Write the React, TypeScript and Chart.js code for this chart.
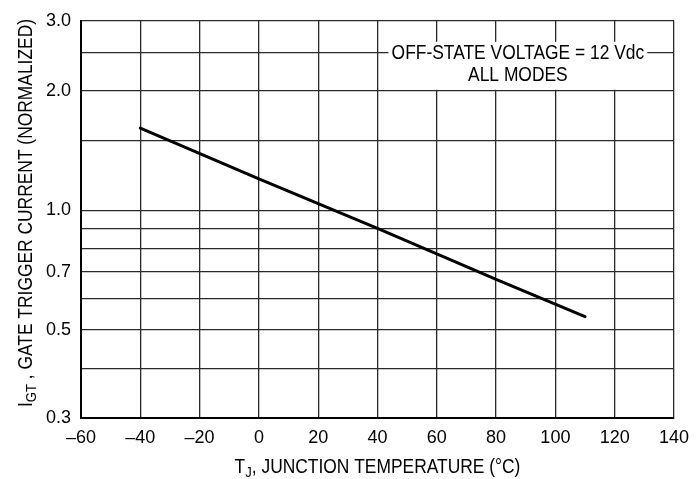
import { useEffect, useRef } from 'react';
import { Chart, registerables } from 'chart.js';

Chart.register(...registerables);

// ---- data ----
const temperatureC = [-40, 0, 40, 80, 110];
const gateTriggerCurrent = [1.61, 1.2, 0.9, 0.67, 0.54];
const xTickValues = [-60, -40, -20, 0, 20, 40, 60, 80, 100, 120, 140];
const yGridValues = [0.3, 0.4, 0.5, 0.6, 0.7, 0.8, 0.9, 1.0, 1.5, 2.0, 2.5, 3.0];
const yLabeledValues = [0.3, 0.5, 0.7, 1.0, 2.0, 3.0];
const annotationLines = ['OFF-STATE VOLTAGE = 12 Vdc', 'ALL MODES'];
const xTitleParts = ['T', 'J', ', JUNCTION TEMPERATURE (°C)'];
const yTitleParts = ['I', 'GT', ' , GATE TRIGGER CURRENT (NORMALIZED)'];

const FONT = "'Liberation Sans', Arial, Helvetica, sans-serif";
const TICK_FS = 18;
const TEXT_FS = 20;
const SQUEEZE = 0.87;

const textPlugin = {
  id: 'textPlugin',
  afterDraw(chart: any) {
    const ctx = chart.ctx as CanvasRenderingContext2D;
    const xs = chart.scales.x;
    const ys = chart.scales.y;
    ctx.save();
    // annotation box
    const left = xs.getPixelForValue(43.7);
    const right = xs.getPixelForValue(131);
    const top = ys.top + 21;
    const bottom = ys.getPixelForValue(2.0) - 1;
    ctx.fillStyle = '#fff';
    ctx.fillRect(left, top, right - left, bottom - top);
    ctx.fillStyle = '#000';
    ctx.font = `${TEXT_FS}px ${FONT}`;
    ctx.textAlign = 'center';
    ctx.textBaseline = 'middle';
    const cx = (left + right) / 2;
    const y1 = ys.getPixelForValue(2.5) + 1;
    [y1, y1 + 22].forEach((yy, i) => {
      ctx.save();
      ctx.translate(cx, yy);
      ctx.scale(SQUEEZE, 1);
      ctx.fillText(annotationLines[i], 0, 0);
      ctx.restore();
    });

    // titles with subscripts (drawn condensed)
    const drawSub = (parts: string[]) => {
      ctx.save();
      ctx.scale(SQUEEZE, 1);
      ctx.textAlign = 'left';
      ctx.textBaseline = 'alphabetic';
      const fs = TEXT_FS;
      const sub = TEXT_FS - 5;
      ctx.font = `${fs}px ${FONT}`;
      const w0 = ctx.measureText(parts[0]).width;
      const w2 = ctx.measureText(parts[2]).width;
      ctx.font = `${sub}px ${FONT}`;
      const w1 = ctx.measureText(parts[1]).width;
      let x = -(w0 + w1 + w2) / 2;
      ctx.font = `${fs}px ${FONT}`;
      ctx.fillText(parts[0], x, 0);
      x += w0;
      ctx.font = `${sub}px ${FONT}`;
      ctx.fillText(parts[1], x, 4);
      x += w1;
      ctx.font = `${fs}px ${FONT}`;
      ctx.fillText(parts[2], x, 0);
      ctx.restore();
    };

    ctx.save();
    ctx.translate((xs.left + xs.right) / 2, 473);
    drawSub(xTitleParts);
    ctx.restore();

    ctx.save();
    ctx.translate(32, 213);
    ctx.rotate(-Math.PI / 2);
    drawSub(yTitleParts);
    ctx.restore();

    ctx.restore();
  },
};

export default function App() {
  const ref = useRef<HTMLCanvasElement>(null);
  useEffect(() => {
    if (!ref.current) return;
    const chart = new Chart(ref.current, {
      type: 'line',
      data: {
        datasets: [
          {
            data: temperatureC.map((t, i) => ({ x: t, y: gateTriggerCurrent[i] })),
            borderColor: '#000',
            borderWidth: 3,
            pointRadius: 0,
            tension: 0,
            borderCapStyle: 'round',
          },
        ],
      },
      options: {
        animation: false,
        responsive: false,
        devicePixelRatio: 1,
        layout: { padding: { top: 20, right: 23.5, left: 0, bottom: 0 } },
        plugins: { legend: { display: false }, tooltip: { enabled: false } },
        scales: {
          x: {
            type: 'linear',
            min: -60,
            max: 140,
            afterBuildTicks: (s: any) => {
              s.ticks = xTickValues.map((v) => ({ value: v }));
            },
            afterFit: (s: any) => {
              s.height = 61;
            },
            ticks: {
              autoSkip: false,
              maxRotation: 0,
              padding: 9,
              color: '#000',
              font: { family: FONT, size: TICK_FS },
              callback: (v: any) => (v < 0 ? '\u2013' + Math.abs(v) : String(v)),
            },
            grid: { color: '#2a2a2a', lineWidth: 1.3, drawTicks: false },
            border: { color: '#000', width: 2 },
          },
          y: {
            type: 'logarithmic',
            min: 0.3,
            max: 3.0,
            afterBuildTicks: (s: any) => {
              s.ticks = yGridValues.map((v) => ({ value: v }));
            },
            afterFit: (s: any) => {
              s.width = 81;
            },
            ticks: {
              autoSkip: false,
              padding: 10,
              color: '#000',
              font: { family: FONT, size: TICK_FS },
              callback: (v: any) =>
                yLabeledValues.some((l) => Math.abs(l - v) < 1e-9) ? Number(v).toFixed(1) : '',
            },
            grid: { color: '#2a2a2a', lineWidth: 1.3, drawTicks: false },
            border: { color: '#000', width: 2 },
          },
        },
      },
      plugins: [textPlugin],
    });
    return () => chart.destroy();
  }, []);
  return (
    <div style={{ position: 'fixed', left: 0, top: 0, width: 698, height: 479, background: '#fff' }}>
      <canvas ref={ref} width={698} height={479} style={{ display: 'block' }} />
    </div>
  );
}
